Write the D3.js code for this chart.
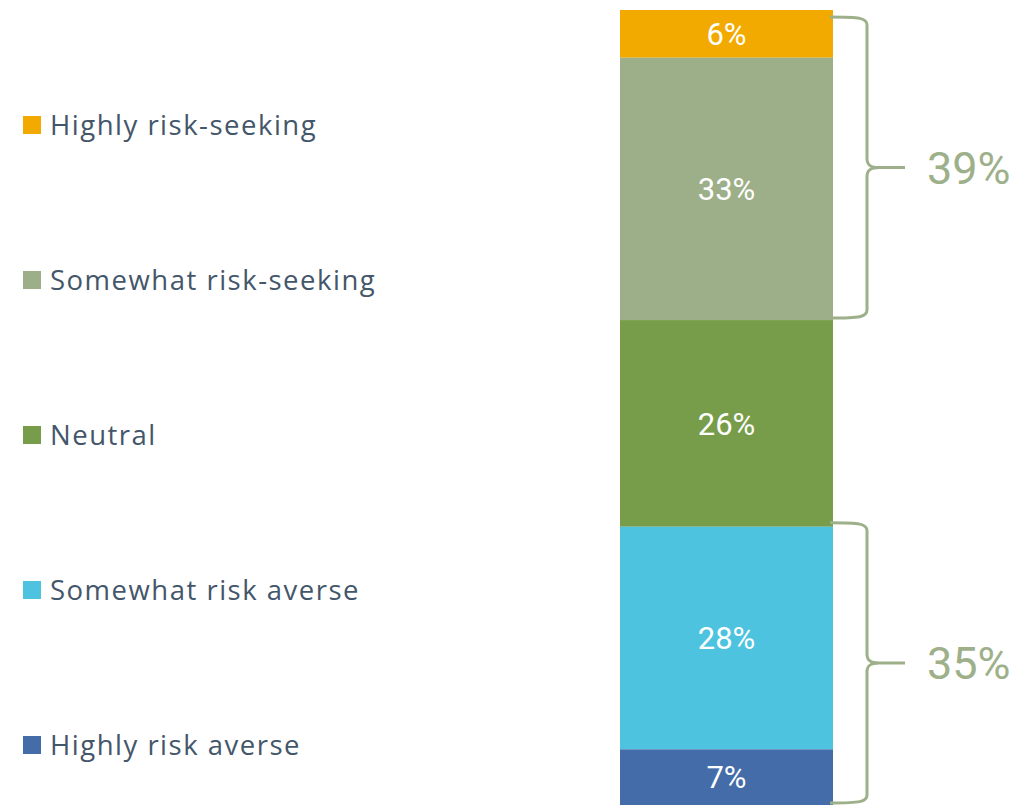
<!DOCTYPE html>
<html>
<head>
<meta charset="utf-8">
<script src="https://cdn.jsdelivr.net/npm/d3@7"></script>
<style>
  html, body { margin: 0; padding: 0; background: #ffffff; }
  svg { display: block; }
</style>
</head>
<body>
<svg id="chart" width="1015" height="805"></svg>
<script>
// ---- data ----
const categories = ["Highly risk-seeking", "Somewhat risk-seeking", "Neutral", "Somewhat risk averse", "Highly risk averse"];
const values = [6, 33, 26, 28, 7];
const colors = ["#f2aa00", "#9daf88", "#789d4a", "#4dc3df", "#436ca9"];
const groupLabels = ["39%", "35%"];
const groupRanges = [[0, 2], [3, 5]]; // category index ranges [start, end)

// ---- layout ----
const svg = d3.select("#chart");
const barX0 = 620, barX1 = 833;
const y = d3.scaleLinear().domain([0, 100]).range([10, 805]);
const ends = Array.from(d3.cumsum(values));
const starts = ends.map((e, i) => e - values[i]);
const segs = categories.map((c, i) => ({ c, v: values[i], s: starts[i], e: ends[i], col: colors[i] }));

// bars
svg.append("g").selectAll("rect").data(segs).join("rect")
  .attr("x", barX0).attr("width", barX1 - barX0)
  .attr("y", d => y(d.s)).attr("height", d => y(d.e) - y(d.s))
  .attr("fill", d => d.col);

// value labels
svg.append("g").selectAll("text").data(segs).join("text")
  .attr("x", (barX0 + barX1) / 2)
  .attr("y", d => (y(d.s) + y(d.e)) / 2)
  .attr("dy", "0.36em")
  .attr("text-anchor", "middle")
  .attr("font-family", "Roboto, 'Liberation Sans', sans-serif")
  .attr("font-size", 31)
  .attr("fill", "#ffffff")
  .text(d => d.v + "%");

// legend
const legendY = d3.scalePoint().domain(categories).range([125, 745]);
const leg = svg.append("g").selectAll("g").data(segs).join("g")
  .attr("transform", d => `translate(0,${legendY(d.c)})`);
leg.append("rect").attr("x", 23).attr("y", -9).attr("width", 18).attr("height", 18).attr("fill", d => d.col);
leg.append("text")
  .attr("x", 50).attr("y", 0).attr("dy", "0.36em")
  .attr("font-family", "'Open Sans', 'Noto Sans', sans-serif")
  .attr("font-size", 27.5)
  .attr("letter-spacing", "1.5px")
  .attr("fill", "#44566a")
  .text(d => d.c);

// braces
const braceColor = "#9db08a";
const xv = 867, xt = 905, x0 = 830;
groupRanges.forEach((r, gi) => {
  let top = y(starts[r[0]]) - 4, bot = y(ends[r[1] - 1]) - 2;
  top = Math.max(top, 17); bot = Math.min(bot, 803);
  const mid = (top + bot) / 2;
  const p = d3.path();
  p.moveTo(x0, top);
  p.bezierCurveTo(x0 + 30, top, xv, top + 1, xv, top + 8);
  p.lineTo(xv, mid - 9);
  p.bezierCurveTo(xv, mid - 2, xv + 4, mid, xv + 12, mid);
  p.lineTo(xt, mid);
  p.moveTo(xv + 12, mid);
  p.bezierCurveTo(xv + 4, mid, xv, mid + 2, xv, mid + 9);
  p.lineTo(xv, bot - 8);
  p.bezierCurveTo(xv, bot - 1, x0 + 30, bot, x0, bot);
  svg.append("path").attr("d", p.toString())
    .attr("fill", "none").attr("stroke", braceColor).attr("stroke-width", 3);
  svg.append("text")
    .attr("x", 927).attr("y", mid).attr("dy", "0.36em")
    .attr("font-family", "Roboto, 'Liberation Sans', sans-serif")
    .attr("font-size", 45)
    .attr("fill", braceColor)
    .text(groupLabels[gi]);
});
</script>
</body>
</html>
